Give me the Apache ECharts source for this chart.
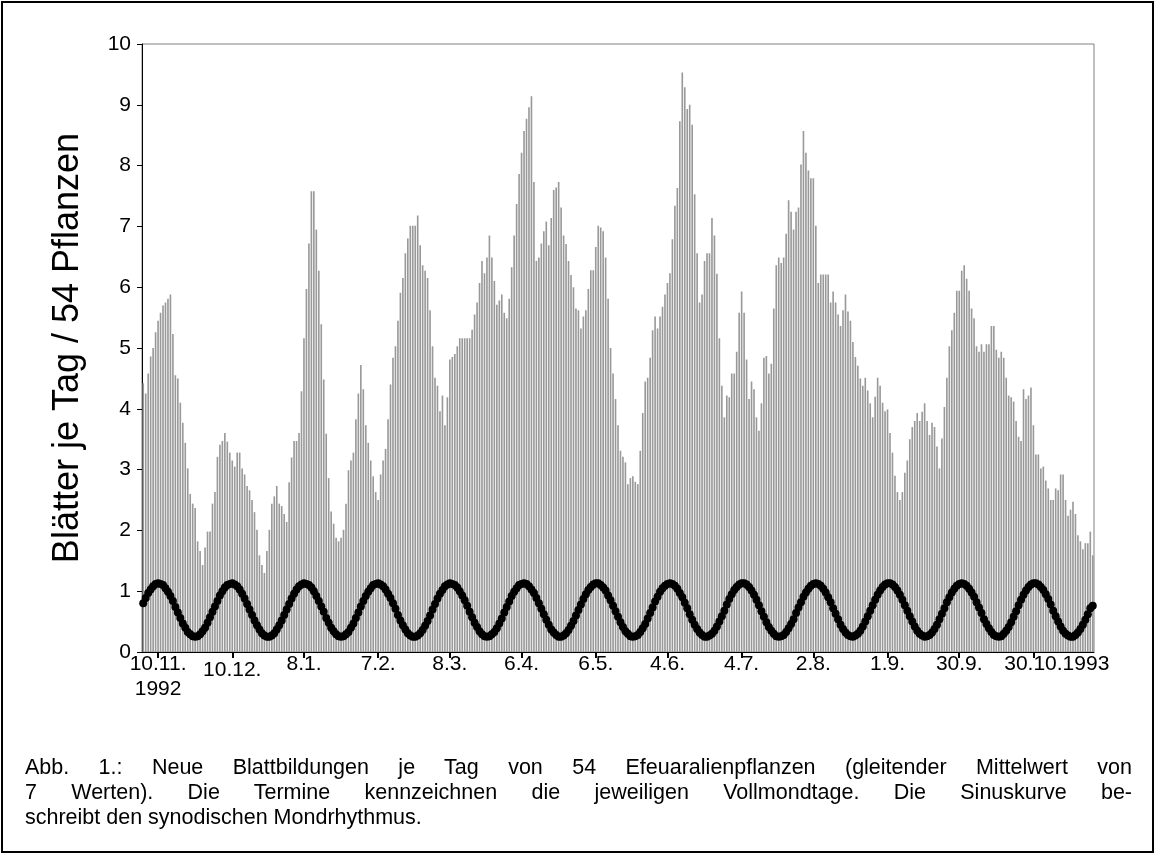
<!DOCTYPE html>
<html>
<head>
<meta charset="utf-8">
<script src="https://cdn.jsdelivr.net/npm/echarts@6/dist/echarts.min.js"></script>
<style>
  html, body { margin: 0; padding: 0; background: #fff; }
  #wrap { position: relative; width: 1156px; height: 855px; }
  #chart { position: absolute; left: 0; top: 0; width: 1156px; height: 855px; }
  #caption { position: absolute; left: 25px; top: 755px; width: 1107px;
    font-family: "Liberation Sans", Arial, sans-serif; font-size: 21.5px; line-height: 25px; color: #000; }
  #caption .j { text-align: justify; text-align-last: justify; }
</style>
</head>
<body>
<div id="wrap">
  <div id="chart"></div>
  <div id="caption">
    <div class="j">Abb. 1.: Neue Blattbildungen je Tag von 54 Efeuaralienpflanzen (gleitender Mittelwert von</div>
    <div class="j">7&nbsp;Werten). Die Termine kennzeichnen die jeweiligen Vollmondtage. Die Sinuskurve be-</div>
    <div>schreibt den synodischen Mondrhythmus.</div>
  </div>
</div>
<script>
// ---- data ----
const startDate = [1992, 11, 4];   // first day of the series (4.11.1992)
const dayCount = 385;

const fullMoonDates = ['10.11.1992','10.12.1992','8.1.1993','7.2.1993','8.3.1993','6.4.1993','6.5.1993',
  '4.6.1993','4.7.1993','2.8.1993','1.9.1993','30.9.1993','30.10.1993'];
const fullMoonLabels = ['10.11.\n1992','10.12.','8.1.','7.2.','8.3.','6.4.','6.5.',
  '4.6.','4.7.','2.8.','1.9.','30.9.','30.10.'];
const lastYearSuffix = '1993';   // printed right after the last date label

const yTicks = [0,1,2,3,4,5,6,7,8,9,10];

// Neue Blätter je Tag (gleitender Mittelwert von 7 Werten)
const leaves = [
  4.42,4.25,4.58,4.86,5.0,5.26,5.45,5.58,5.7,5.75,
  5.81,5.88,5.23,4.55,4.5,4.1,3.77,3.44,3.02,2.6,
  2.44,2.37,1.82,1.66,1.43,1.72,1.98,1.98,2.44,2.63,
  3.21,3.41,3.47,3.6,3.46,3.28,3.15,3.05,3.28,3.28,
  3.02,2.92,2.73,2.66,2.5,2.3,2.01,1.59,1.43,1.3,
  1.66,2.01,2.44,2.56,2.73,2.44,2.4,2.27,2.14,2.79,
  3.2,3.47,3.47,3.6,4.29,5.16,5.97,6.72,7.58,7.58,
  6.95,6.27,5.39,4.48,3.59,2.86,2.31,2.11,1.88,1.82,
  1.88,2.01,2.44,2.99,3.15,3.28,3.83,4.25,4.72,4.32,
  3.73,3.44,3.15,2.89,2.63,2.5,2.92,3.15,3.34,3.83,
  4.4,4.84,5.03,5.45,5.91,6.15,6.56,6.8,7.01,7.01,
  7.01,7.18,6.69,6.36,6.27,6.15,5.62,5.03,4.51,4.38,
  3.96,4.22,3.73,4.19,4.81,4.85,4.9,5.03,5.16,5.16,
  5.16,5.16,5.16,5.3,5.55,5.75,6.07,6.43,6.23,6.49,
  6.85,6.49,6.1,5.71,5.78,5.88,5.58,5.49,5.81,6.33,
  6.85,7.37,7.86,8.21,8.57,8.77,8.96,9.14,7.73,6.43,
  6.49,6.72,6.92,7.08,6.69,7.14,7.6,7.64,7.73,7.31,
  6.85,6.71,6.43,6.2,6.0,5.65,5.62,5.32,5.52,5.62,
  5.97,6.28,6.28,6.66,7.01,6.98,6.92,6.49,5.81,5.0,
  4.58,4.16,3.73,3.31,3.21,3.12,2.76,2.86,2.89,2.8,
  2.76,3.31,3.93,4.45,4.51,4.84,5.29,5.52,5.32,5.52,
  5.68,5.88,6.07,6.23,6.79,7.34,7.63,8.73,9.53,9.29,
  8.93,9.0,8.67,7.53,6.56,5.75,5.88,6.43,6.56,6.56,
  7.14,6.85,6.22,5.16,4.38,3.86,4.22,4.19,4.58,4.58,
  4.94,5.58,5.93,5.58,4.81,4.16,4.45,4.32,3.86,3.64,
  4.09,4.84,4.87,4.58,4.74,5.65,6.36,6.49,6.4,6.49,
  6.88,7.43,7.24,6.95,7.24,7.31,8.02,8.57,8.21,7.92,
  7.79,7.79,7.01,6.07,6.21,6.21,6.21,6.21,5.75,5.93,
  5.75,5.55,5.36,5.62,5.88,5.6,5.45,5.1,4.85,4.71,
  4.5,4.38,4.51,4.3,4.09,3.86,4.2,4.51,4.38,4.1,
  3.96,3.99,3.6,3.28,2.9,2.63,2.5,2.63,2.95,3.15,
  3.5,3.7,3.8,3.93,3.8,3.95,4.09,3.8,3.57,3.77,
  3.7,3.38,3.02,3.51,4.03,4.51,5.03,5.29,5.58,5.94,
  5.94,6.27,6.36,6.14,5.94,5.65,5.49,5.03,4.94,5.06,
  4.94,5.06,5.06,5.36,5.36,4.97,4.84,4.94,4.84,4.51,
  4.22,4.19,4.12,3.8,3.54,3.47,4.32,4.16,4.22,4.35,
  3.73,3.25,3.25,3.02,3.05,2.82,2.69,2.5,2.5,2.69,
  2.66,2.92,2.92,2.5,2.24,2.34,2.47,2.27,1.92,1.82,
  1.69,1.79,1.79,1.98,1.59
];

// Sinuskurve: synodischer Mondrhythmus (Werte je Tag)
const lunarSine = [
  0.80,0.89,0.97,1.03,1.08,1.12,1.13,1.12,1.10,1.05,
  0.99,0.92,0.84,0.74,0.65,0.56,0.47,0.40,0.33,0.29,
  0.26,0.25,0.26,0.29,0.34,0.40,0.48,0.57,0.66,0.75,
  0.84,0.93,1.00,1.06,1.10,1.12,1.13,1.11,1.08,1.03,
  0.96,0.88,0.79,0.70,0.61,0.52,0.44,0.37,0.31,0.27,
  0.25,0.25,0.27,0.31,0.37,0.44,0.52,0.61,0.70,0.79,
  0.88,0.96,1.03,1.08,1.11,1.13,1.12,1.10,1.06,1.00,
  0.92,0.84,0.75,0.66,0.56,0.48,0.40,0.34,0.29,0.26,
  0.25,0.26,0.29,0.33,0.40,0.47,0.56,0.65,0.75,0.84,
  0.92,0.99,1.05,1.10,1.12,1.13,1.11,1.08,1.03,0.96,
  0.89,0.80,0.71,0.61,0.52,0.44,0.37,0.31,0.27,0.25,
  0.25,0.27,0.31,0.36,0.43,0.51,0.60,0.70,0.79,0.88,
  0.96,1.02,1.08,1.11,1.13,1.12,1.10,1.06,1.00,0.93,
  0.85,0.76,0.66,0.57,0.48,0.41,0.34,0.29,0.26,0.25,
  0.26,0.29,0.33,0.39,0.47,0.55,0.65,0.74,0.83,0.92,
  0.99,1.05,1.10,1.12,1.13,1.12,1.08,1.03,0.97,0.89,
  0.80,0.71,0.62,0.53,0.45,0.37,0.32,0.28,0.25,0.25,
  0.27,0.31,0.36,0.43,0.51,0.60,0.69,0.78,0.87,0.95,
  1.02,1.07,1.11,1.13,1.13,1.10,1.06,1.01,0.93,0.85,
  0.76,0.67,0.58,0.49,0.41,0.34,0.30,0.26,0.25,0.26,
  0.28,0.33,0.39,0.46,0.55,0.64,0.73,0.83,0.91,0.99,
  1.05,1.09,1.12,1.13,1.12,1.09,1.04,0.97,0.90,0.81,
  0.72,0.62,0.53,0.45,0.38,0.32,0.28,0.25,0.25,0.27,
  0.30,0.35,0.42,0.50,0.59,0.68,0.78,0.87,0.95,1.02,
  1.07,1.11,1.13,1.13,1.11,1.07,1.01,0.94,0.86,0.77,
  0.67,0.58,0.49,0.41,0.35,0.30,0.26,0.25,0.26,0.28,
  0.33,0.39,0.46,0.54,0.64,0.73,0.82,0.91,0.98,1.04,
  1.09,1.12,1.13,1.12,1.09,1.04,0.98,0.90,0.82,0.72,
  0.63,0.54,0.45,0.38,0.32,0.28,0.26,0.25,0.27,0.30,
  0.35,0.42,0.50,0.59,0.68,0.77,0.86,0.94,1.01,1.07,
  1.11,1.13,1.13,1.11,1.07,1.01,0.94,0.86,0.77,0.68,
  0.59,0.50,0.42,0.35,0.30,0.27,0.25,0.26,0.28,0.32,
  0.38,0.45,0.54,0.63,0.72,0.82,0.90,0.98,1.04,1.09,
  1.12,1.13,1.12,1.09,1.04,0.98,0.91,0.82,0.73,0.64,
  0.54,0.46,0.39,0.33,0.28,0.26,0.25,0.26,0.30,0.35,
  0.41,0.49,0.58,0.67,0.77,0.86,0.94,1.01,1.07,1.11,
  1.13,1.13,1.11,1.07,1.02,0.95,0.87,0.78,0.68,0.59,
  0.50,0.42,0.35,0.30,0.27,0.25,0.25,0.28,0.32,0.38,
  0.45,0.53,0.62,0.72,0.76
];

// ---- categories: one per day ----
const categories = [];
for (let i = 0; i < dayCount; i++) {
  const d = new Date(Date.UTC(startDate[0], startDate[1] - 1, startDate[2] + i));
  categories.push(d.getUTCDate() + '.' + (d.getUTCMonth() + 1) + '.' + d.getUTCFullYear());
}
const labelOf = {};
fullMoonDates.forEach((d, i) => { labelOf[d] = fullMoonLabels[i]; });
const isMoon = (idx, val) => labelOf[val] !== undefined;

const FONT = '"Liberation Sans", Arial, sans-serif';
const LBL = 21;
const AXIS_Y = 652;
const chart = echarts.init(document.getElementById('chart'), null, { renderer: 'canvas' });

chart.setOption({
  animation: false,
  backgroundColor: '#fff',
  graphic: [{
    id: 'frame', type: 'rect', shape: { x: 2, y: 2, width: 1151, height: 850 },
    style: { fill: 'none', stroke: '#000', lineWidth: 2 }, z: 100
  }],
  grid: { left: 142, top: 44, width: 952, height: 608, show: true,
          borderColor: '#808080', borderWidth: 1, backgroundColor: 'transparent' },
  xAxis: {
    type: 'category', data: categories, boundaryGap: true,
    axisLine: { lineStyle: { color: '#000', width: 1 } },
    axisTick: { show: true, alignWithLabel: true, interval: isMoon, length: 6,
                lineStyle: { color: '#000', width: 2 } },
    axisLabel: {
      interval: isMoon, hideOverlap: false, showMinLabel: true, showMaxLabel: true,
      color: '#000', fontFamily: FONT, fontSize: LBL, lineHeight: 25, margin: 0,
      formatter: (val) => {
        const l = labelOf[val];
        if (l === undefined) return '';
        if (l === '10.12.') return '{d|10.12.}';
        return l;
      },
      rich: {
        d: { fontFamily: FONT, fontSize: LBL, color: '#000', lineHeight: 25, padding: [12, 0, 0, 0] }
      }
    },
    splitLine: { show: false }
  },
  yAxis: {
    type: 'value', min: yTicks[0], max: yTicks[yTicks.length - 1], interval: 1,
    name: 'Blätter je Tag / 54 Pflanzen', nameLocation: 'middle', nameGap: 56,
    nameTextStyle: { color: '#000', fontFamily: FONT, fontSize: 36 },
    axisLine: { show: true, lineStyle: { color: '#000', width: 1 } },
    axisTick: { show: true, length: 5, lineStyle: { color: '#000', width: 1 } },
    axisLabel: { color: '#000', fontFamily: FONT, fontSize: LBL, margin: 11 },
    splitLine: { show: false }
  },
  series: [
    { type: 'bar', data: leaves, barWidth: '66%', itemStyle: { color: '#999999' }, z: 1 },
    { type: 'line', data: lunarSine, symbol: 'circle', symbolSize: 8, showAllSymbol: true,
      itemStyle: { color: '#000' }, lineStyle: { color: '#000', width: 2 }, z: 3 }
  ]
});

// year suffix right after the last full-moon label, positioned via the category axis
const lastDate = fullMoonDates[fullMoonDates.length - 1];
const cx = chart.convertToPixel({ xAxisIndex: 0 }, lastDate);
const ctx = document.createElement('canvas').getContext('2d');
ctx.font = LBL + 'px ' + FONT;
const halfW = ctx.measureText(fullMoonLabels[fullMoonLabels.length - 1]).width / 2;
chart.setOption({
  graphic: [{
    id: 'year', type: 'text', x: cx + halfW, y: AXIS_Y + 12.5,
    style: { text: lastYearSuffix, fill: '#000', font: LBL + 'px ' + FONT,
             textAlign: 'left', textVerticalAlign: 'middle' }
  }]
});
</script>
</body>
</html>
